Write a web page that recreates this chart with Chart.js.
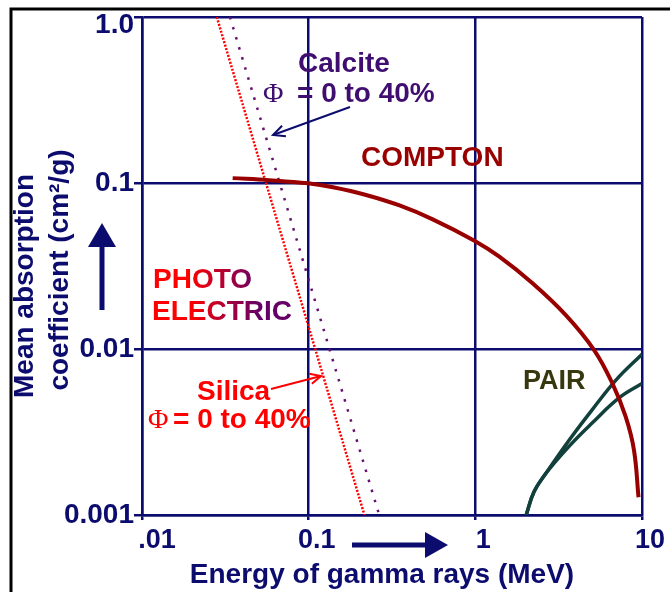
<!DOCTYPE html>
<html>
<head>
<meta charset="utf-8">
<script src="https://cdn.jsdelivr.net/npm/chart.js@4.4.0/dist/chart.umd.min.js"></script>
<style>
  html, body { margin: 0; padding: 0; background: #fff; }
  #wrap { width: 670px; height: 592px; }
</style>
</head>
<body>
<div id="wrap"><canvas id="chart" width="670" height="592"></canvas></div>
<script>
// axis ticks
const xTickValues = [0.01, 0.1, 1, 10];
const xTickLabels = ['.01', '0.1', '1', '10'];
const yTickValues = [0.001, 0.01, 0.1, 1];
const yTickLabels = ['0.001', '0.01', '0.1', '1.0'];

// compton scattering curve (MeV, cm2/g)
const comptonX = [0.035, 0.058, 0.099, 0.14, 0.221, 0.351, 0.555, 0.987, 1.393, 2.204, 3.49, 5.16, 6.64, 7.98, 8.95, 9.53];
const comptonY = [0.107, 0.104, 0.0995, 0.0942, 0.0847, 0.0732, 0.0604, 0.0449, 0.036, 0.0249, 0.016, 0.00986, 0.00621, 0.00391, 0.00246, 0.00128];

// pair production, two curves
const pairUpperX = [2.02, 2.25, 2.66, 3.66, 5.02, 6.98, 10];
const pairUpperY = [0.001, 0.00138, 0.00179, 0.00283, 0.0043, 0.0065, 0.0093];
const pairLowerX = [2.02, 2.25, 2.66, 3.66, 5.02, 7.28, 10];
const pairLowerY = [0.001, 0.00138, 0.00179, 0.0026, 0.00358, 0.00507, 0.0062];

// photoelectric lines
const silicaX = [0.0281, 0.216];
const silicaY = [1, 0.001];
const calciteX = [0.0337, 0.265];
const calciteY = [1, 0.001];

const NAVY = '#0c0c6e';
const zip = (xs, ys) => xs.map((x, i) => ({ x: x, y: ys[i] }));

function arrowHead(ctx, x0, y0, x1, y1, len) {
    const a = Math.atan2(y1 - y0, x1 - x0);
    ctx.beginPath();
    ctx.moveTo(x1 - len * Math.cos(a - 0.45), y1 - len * Math.sin(a - 0.45));
    ctx.lineTo(x1, y1);
    ctx.lineTo(x1 - len * Math.cos(a + 0.45), y1 - len * Math.sin(a + 0.45));
    ctx.stroke();
}

function phiLine(ctx, x, y, color, gap) {
    ctx.fillStyle = color;
    ctx.font = '28px "Liberation Serif", serif';
    ctx.fillText('\u03A6', x, y);
    ctx.font = 'bold 28px "Liberation Sans", Arial, sans-serif';
    ctx.fillText('= 0 to 40%', x + gap, y);
}

const decor = {
    id: 'decor',
    beforeDraw(chart) {
        const ctx = chart.ctx;
        ctx.save();
        ctx.strokeStyle = '#000';
        ctx.lineWidth = 3;
        ctx.beginPath();
        ctx.moveTo(11, 592);
        ctx.lineTo(11, 9);
        ctx.lineTo(670, 9);
        ctx.stroke();
        ctx.restore();
    },
    afterDraw(chart) {
        const ctx = chart.ctx;
        const xs = chart.scales.x, ys = chart.scales.y;
        const area = chart.chartArea;
        ctx.save();

        // tick labels
        ctx.fillStyle = NAVY;
        ctx.font = 'bold 28px "Liberation Sans", Arial, sans-serif';
        ctx.textAlign = 'right';
        ctx.textBaseline = 'middle';
        yTickValues.forEach((v, i) => {
            const py = Math.max(ys.getPixelForValue(v), area.top + 8);
            ctx.fillText(yTickLabels[i], 134, py);
        });
        ctx.font = 'bold 27px "Liberation Sans", Arial, sans-serif';
        ctx.textAlign = 'center';
        xTickValues.forEach((v, i) => {
            const off = i === 0 ? 15 : 8;
            ctx.fillText(xTickLabels[i], xs.getPixelForValue(v) + off, 541);
        });

        // axis titles
        ctx.font = 'bold 28px "Liberation Sans", Arial, sans-serif';
        ctx.textBaseline = 'alphabetic';
        ctx.fillText('Energy of gamma rays (MeV)', 382, 583);
        ctx.save();
        ctx.translate(25, 286);
        ctx.rotate(-Math.PI / 2);
        ctx.textBaseline = 'middle';
        ctx.fillText('Mean absorption', 0, 0);
        ctx.restore();
        ctx.save();
        ctx.translate(60, 270);
        ctx.rotate(-Math.PI / 2);
        ctx.textBaseline = 'middle';
        ctx.fillText('coefficient (cm\u00B2/g)', 0, 0);
        ctx.restore();

        // axis arrows
        ctx.fillStyle = NAVY;
        ctx.fillRect(99.5, 244, 5, 66);
        ctx.beginPath();
        ctx.moveTo(88, 247); ctx.lineTo(116, 247); ctx.lineTo(102, 223); ctx.closePath();
        ctx.fill();
        ctx.fillRect(352, 542.5, 75, 5);
        ctx.beginPath();
        ctx.moveTo(425, 532); ctx.lineTo(425, 558); ctx.lineTo(448, 545); ctx.closePath();
        ctx.fill();

        // annotations
        ctx.textAlign = 'left';
        ctx.font = 'bold 28px "Liberation Sans", Arial, sans-serif';
        ctx.fillStyle = '#400e70';
        ctx.fillText('Calcite', 298, 72);
        phiLine(ctx, 263, 102, '#400e70', 34);

        ctx.strokeStyle = NAVY;
        ctx.lineWidth = 2;
        ctx.beginPath();
        ctx.moveTo(350, 107); ctx.lineTo(273, 135);
        ctx.stroke();
        arrowHead(ctx, 350, 107, 273, 135, 13);

        ctx.font = 'bold 28px "Liberation Sans", Arial, sans-serif';
        ctx.fillStyle = '#990000';
        ctx.fillText('COMPTON', 361, 166);

        const grad = ctx.createLinearGradient(190, 0, 258, 0);
        grad.addColorStop(0, '#ff0000');
        grad.addColorStop(1, '#660066');
        ctx.fillStyle = grad;
        ctx.fillText('PHOTO', 153, 288);
        ctx.fillText('ELECTRIC', 152, 320);

        ctx.fillStyle = '#ff0000';
        ctx.fillText('Silica', 197, 400);
        phiLine(ctx, 148, 428, '#ff0000', 25);
        ctx.strokeStyle = '#ff0000';
        ctx.beginPath();
        ctx.moveTo(271, 389); ctx.lineTo(321, 376);
        ctx.stroke();
        arrowHead(ctx, 271, 389, 321, 376, 12);

        ctx.font = 'bold 27px "Liberation Sans", Arial, sans-serif';
        ctx.fillStyle = '#383810';
        ctx.fillText('PAIR', 523, 389);
        ctx.restore();
    }
};

new Chart(document.getElementById('chart'), {
    type: 'line',
    data: {
        datasets: [
            { label: 'Compton', data: zip(comptonX, comptonY), borderColor: '#990000', borderWidth: 4, tension: 0.4 },
            { label: 'Pair upper', data: zip(pairUpperX, pairUpperY), borderColor: '#12403c', borderWidth: 3.5, tension: 0.4 },
            { label: 'Pair lower', data: zip(pairLowerX, pairLowerY), borderColor: '#12403c', borderWidth: 3.5, tension: 0.4 },
            { label: 'Silica', data: zip(silicaX, silicaY), borderColor: '#ff0000', borderWidth: 2.5, borderDash: [2, 1.6] },
            { label: 'Calcite', data: zip(calciteX, calciteY), borderColor: '#661070', borderWidth: 2.5, borderDash: [2.5, 8] }
        ]
    },
    options: {
        responsive: false,
        animation: false,
        layout: { padding: { left: 134, right: 28, top: 17, bottom: 72 } },
        elements: { point: { radius: 0 } },
        plugins: { legend: { display: false }, tooltip: { enabled: false } },
        scales: {
            x: {
                type: 'logarithmic', min: 0.01, max: 10,
                afterBuildTicks: s => { s.ticks = xTickValues.map(v => ({ value: v })); },
                ticks: { display: false },
                grid: { color: NAVY, lineWidth: 2.5, tickLength: 5 },
                border: { color: NAVY, width: 2.5 }
            },
            y: {
                type: 'logarithmic', min: 0.001, max: 1,
                afterBuildTicks: s => { s.ticks = yTickValues.map(v => ({ value: v })); },
                ticks: { display: false },
                grid: { color: NAVY, lineWidth: 2.5, tickLength: 8 },
                border: { color: NAVY, width: 2.5 }
            }
        }
    },
    plugins: [decor]
});
</script>
</body>
</html>
